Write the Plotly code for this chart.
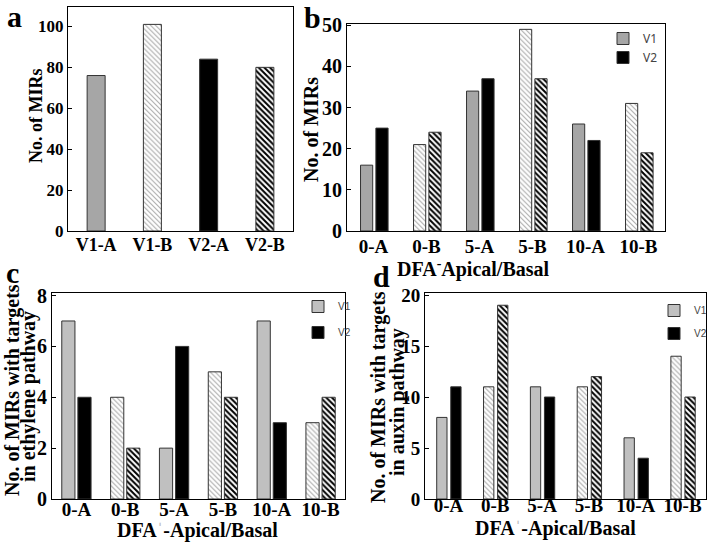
import plotly.graph_objects as go

# panel a
cats_a = ["V1-A", "V1-B", "V2-A", "V2-B"]
vals_a = [76, 101, 84, 80]

# panels b, c, d share the categories
cats = ["0-A", "0-B", "5-A", "5-B", "10-A", "10-B"]
b_v1 = [16, 21, 34, 49, 26, 31]
b_v2 = [25, 24, 37, 37, 22, 19]
c_v1 = [7, 4, 2, 5, 7, 3]
c_v2 = [4, 2, 6, 4, 3, 4]
d_v1 = [8, 11, 11, 11, 6, 14]
d_v2 = [11, 19, 10, 12, 4, 10]

W, H = 708, 546
SERIF = "Liberation Serif, Times New Roman, serif"
GRAY = "#a6a6a6"
LGRAY = "#c0c0c0"
STRIPE_LIGHT = "#a8a8a8"


def px_x(a, b):
    return [a / W, b / W]


def px_y(top, bottom):
    return [1 - bottom / H, 1 - top / H]


def marker_for(labels, solid, stripe, dense):
    shapes = ["\\" if lab.endswith("B") else "" for lab in labels]
    colors = [stripe if s else solid for s in shapes]
    return dict(
        color=colors,
        line=dict(color="#333333", width=1),
        pattern=dict(
            shape=shapes,
            fgcolor=colors,
            bgcolor="white",
            size=4 if dense else 3.5,
            solidity=0.5 if dense else 0.3,
            fillmode="replace",
        ),
    )


fig = go.Figure()

# a
fig.add_trace(go.Bar(
    x=cats_a, y=vals_a, xaxis="x", yaxis="y", showlegend=False,
    width=0.32, offset=-0.16,
    marker=marker_for(cats_a, "black", "black", True),
))
# V1 bars of panel a are gray
fig.data[0].marker.color = [GRAY, STRIPE_LIGHT, "black", "black"]
fig.data[0].marker.pattern.fgcolor = [GRAY, STRIPE_LIGHT, "black", "black"]
fig.data[0].marker.pattern.solidity = [0.5, 0.3, 0.5, 0.5]
fig.data[0].marker.pattern.size = [4, 3.5, 4, 4]

panels = [
    ("x2", "y2", b_v1, b_v2, GRAY, "legend", 0.23, -0.245, 0.045),
    ("x3", "y3", c_v1, c_v2, LGRAY, "legend2", 0.27, -0.3, 0.03),
    ("x4", "y4", d_v1, d_v2, LGRAY, "legend3", 0.22, -0.25, 0.05),
]
for xa, ya, v1, v2, g, leg, w, o1, o2 in panels:
    fig.add_trace(go.Bar(
        x=cats, y=v1, name="V1", xaxis=xa, yaxis=ya, legend=leg,
        legendgroup=leg + "v1", width=w, offset=o1,
        marker=marker_for(cats, g, STRIPE_LIGHT, False),
    ))
    fig.add_trace(go.Bar(
        x=cats, y=v2, name="V2", xaxis=xa, yaxis=ya, legend=leg,
        legendgroup=leg + "v2", width=w, offset=o2,
        marker=marker_for(cats, "black", "black", True),
    ))

frame = dict(showline=True, linecolor="black", linewidth=1, mirror=True,
             showgrid=False, zeroline=False, automargin=False)


def xtick(size, standoff):
    return dict(ticks="", ticklabelstandoff=standoff,
                tickfont=dict(family=SERIF, size=size, color="black", weight="bold"))


def ytick(size):
    return dict(ticks="inside", ticklen=4, tickcolor="black",
                tickfont=dict(family=SERIF, size=size, color="black", weight="bold"))


leg_small = dict(family="Liberation Sans Narrow, Liberation Sans, sans-serif",
                 size=10, color="#444444")

fig.update_layout(
    width=W, height=H,
    margin=dict(l=0, r=0, t=0, b=0, autoexpand=False),
    paper_bgcolor="white", plot_bgcolor="white",
    barmode="group",
    xaxis=dict(domain=px_x(68, 293), anchor="y", **frame, **xtick(18, -3)),
    yaxis=dict(domain=px_y(7, 231), anchor="x", range=[0, 109.5],
               tickvals=[0, 20, 40, 60, 80, 100], **frame, **ytick(17)),
    xaxis2=dict(domain=px_x(347, 665), anchor="y2", **frame, **xtick(19, -2)),
    yaxis2=dict(domain=px_y(24, 231), anchor="x2", range=[0, 50.3], dtick=10,
                **frame, **ytick(20)),
    xaxis3=dict(domain=px_x(52, 345), anchor="y3", **frame, **xtick(19, -7)),
    yaxis3=dict(domain=px_y(293, 499), anchor="x3", range=[0, 8.1], dtick=2,
                **frame, **ytick(20)),
    xaxis4=dict(domain=px_x(425, 706), anchor="y4", **frame, **xtick(19, -11)),
    yaxis4=dict(domain=px_y(293, 499), anchor="x4", range=[0, 20.2], dtick=5,
                **frame, **ytick(19)),
    legend=dict(x=603 / W, y=1 - 24 / H, xanchor="left", yanchor="top",
                bgcolor="rgba(0,0,0,0)", tracegroupgap=0,
                font=dict(family="Noto Sans, sans-serif", size=12, color="#444444")),
    legend2=dict(x=298 / W, y=1 - 292 / H, xanchor="left", yanchor="top",
                 bgcolor="rgba(0,0,0,0)", tracegroupgap=7, font=leg_small),
    legend3=dict(x=654 / W, y=1 - 296 / H, xanchor="left", yanchor="top",
                 bgcolor="rgba(0,0,0,0)", tracegroupgap=4, font=leg_small),
)

title_font = dict(family=SERIF, color="black", weight="bold")
notes = [
    # panel letters
    dict(text="a", x=14, y=16, size=30),
    dict(text="b", x=312, y=17, size=30),
    dict(text="c", x=12, y=272, size=30),
    dict(text="d", x=381, y=276, size=30),
    # x axis titles
    dict(text="DFA<sup>-</sup>Apical/Basal", x=473, y=268, size=20),
    dict(text="DFA<span style='color:#bbbbbb'>ˈ</span>-Apical/Basal", x=198, y=530, size=20),
    dict(text="DFA<span style='color:#bbbbbb'>ˈ</span>-Apical/Basal", x=555, y=528, size=20),
]
for n in notes:
    fig.add_annotation(text=n["text"], x=n["x"] / W, y=1 - n["y"] / H,
                       xref="paper", yref="paper", showarrow=False,
                       xanchor="center", yanchor="middle",
                       font=dict(size=n["size"], **title_font))

ytitles = [
    ("No. of MIRs", 36, 116, 18),
    ("No. of MIRs", 311, 130, 20),
    ("No. of MIRs with targets", 12, 390, 20),
    ("in ethylene pathway", 28, 397, 20),
    ("No. of MIRs with targets", 378, 397, 20),
    ("in auxin pathway", 397, 402, 20),
]
for text, x, y, size in ytitles:
    fig.add_annotation(text=text, x=x / W, y=1 - y / H, xref="paper", yref="paper",
                       showarrow=False, textangle=-90, xanchor="center", yanchor="middle",
                       font=dict(size=size, **title_font))

fig.write_html("out.html", config={"displayModeBar": False},
               post_script="document.body.style.margin = '0';")
